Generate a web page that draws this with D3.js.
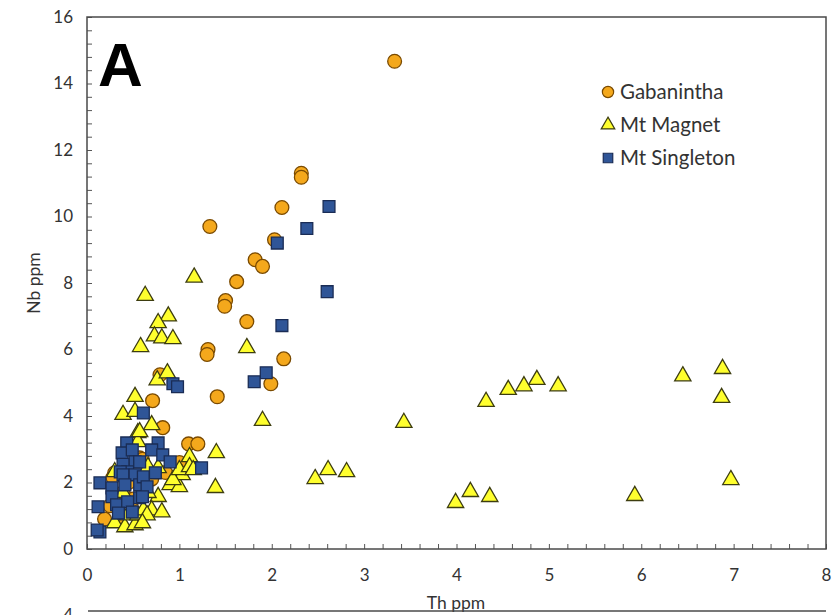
<!DOCTYPE html>
<html>
<head>
<meta charset="utf-8">
<script src="https://cdn.jsdelivr.net/npm/d3@7"></script>
<style>
  body { margin: 0; background: #fff; }
  svg { display: block; }
</style>
</head>
<body>
<svg id="chart"></svg>
<script>
// Th ppm, Nb ppm pairs
const gabanintha = [
    [3.33, 14.67], [2.32, 11.3], [2.32, 11.18], [2.11, 10.27], [1.33, 9.7], [2.03, 9.3],
    [1.82, 8.7], [1.9, 8.5], [1.62, 8.04], [1.5, 7.47], [1.49, 7.3], [1.73, 6.84],
    [1.31, 6.0], [1.3, 5.85], [2.13, 5.72], [1.99, 4.97], [1.41, 4.58], [0.79, 5.24],
    [0.71, 4.46], [0.82, 3.65], [1.1, 3.16], [1.2, 3.16], [0.19, 0.9], [0.57, 2.74],
    [0.3, 2.29], [0.6, 2.7], [1.0, 2.6], [0.39, 1.7], [0.45, 2.0], [0.25, 1.3],
    [0.7, 2.1], [0.85, 2.3], [0.5, 1.5], [0.35, 0.9], [0.28, 2.15]
];

const mtMagnet = [
    [6.88, 5.42], [6.45, 5.2], [5.1, 4.9], [4.87, 5.09], [4.73, 4.9], [4.56, 4.79],
    [4.32, 4.43], [6.87, 4.55], [3.43, 3.8], [6.97, 2.08], [5.93, 1.6], [4.36, 1.57],
    [4.15, 1.72], [3.99, 1.39], [2.81, 2.32], [2.61, 2.38], [2.47, 2.11], [1.9, 3.86],
    [1.39, 1.84], [1.4, 2.89], [1.73, 6.05], [1.16, 8.17], [0.63, 7.62], [0.88, 7.0],
    [0.77, 6.8], [0.73, 6.4], [0.81, 6.34], [0.93, 6.32], [0.58, 6.08], [0.76, 5.08],
    [0.87, 5.29], [0.52, 4.58], [0.39, 4.04], [0.52, 4.13], [0.7, 3.73], [0.55, 3.49],
    [0.55, 3.22], [1.11, 2.77], [0.3, 0.78], [0.41, 0.66], [0.52, 0.72], [0.44, 1.02],
    [0.55, 1.02], [0.61, 1.17], [0.3, 2.32], [0.39, 1.69], [0.77, 1.57], [0.7, 1.17],
    [0.81, 1.11], [0.65, 1.02], [0.6, 0.78], [0.66, 1.69], [0.9, 1.93], [1.0, 1.87],
    [1.03, 2.23], [0.93, 2.08], [0.66, 2.47], [0.77, 2.44], [1.0, 2.38], [1.11, 2.47],
    [1.15, 2.38], [0.57, 3.52]
];

const mtSingleton = [
    [2.62, 10.3], [2.38, 9.64], [2.06, 9.2], [2.6, 7.74], [2.11, 6.72], [1.94, 5.3],
    [1.81, 5.03], [0.93, 4.97], [0.98, 4.88], [0.61, 4.09], [0.43, 3.19], [0.38, 2.89],
    [0.49, 2.98], [0.52, 2.62], [0.39, 2.55], [0.44, 2.32], [0.36, 2.32], [0.77, 3.19],
    [0.7, 2.98], [0.82, 2.83], [0.9, 2.62], [1.24, 2.44], [0.14, 1.99], [0.27, 1.84],
    [0.39, 2.23], [0.52, 2.23], [0.57, 1.93], [0.41, 1.93], [0.27, 1.57], [0.32, 1.33],
    [0.44, 1.42], [0.57, 1.54], [0.34, 1.08], [0.49, 1.11], [0.14, 0.51], [0.11, 0.57],
    [0.12, 1.27], [0.61, 2.17], [0.74, 2.29], [0.65, 1.87], [0.6, 1.57], [0.57, 2.62]
];

const seriesNames = ["Gabanintha", "Mt Magnet", "Mt Singleton"];
const xTickLabels = [0, 1, 2, 3, 4, 5, 6, 7, 8];
const yTickLabels = [0, 2, 4, 6, 8, 10, 12, 14, 16];

const width = 836, height = 615;
const margin = { top: 17, right: 10, bottom: 66, left: 87 };
const plotW = 826 - margin.left;
const plotH = 549 - margin.top;
const font = "Lato, 'Open Sans', sans-serif";

const styles = {
    "Gabanintha":   { fill: "#F4A81C", stroke: "#7a4a00" },
    "Mt Magnet":    { fill: "#FFFF2E", stroke: "#3d3d10" },
    "Mt Singleton": { fill: "#2F5597", stroke: "#1a2c55" }
};

const svg = d3.select("#chart")
    .attr("width", width)
    .attr("height", height);

const x = d3.scaleLinear().domain([0, 8]).range([0, plotW]);
const y = d3.scaleLinear().domain([0, 16]).range([plotH, 0]);

const g = svg.append("g")
    .attr("transform", `translate(${margin.left},${margin.top})`);

// minor ticks pointing inward
const xMinor = d3.range(0, 41).map(i => i * 0.2);
const yMinor = d3.range(0, 41).map(i => i * 0.4);

g.append("g")
    .attr("transform", `translate(0,${plotH})`)
    .call(d3.axisBottom(x).tickValues(xMinor).tickSizeInner(-5).tickSizeOuter(0).tickFormat(""))
    .call(a => a.select(".domain").remove())
    .selectAll("line").attr("stroke", "#555");

g.append("g")
    .call(d3.axisLeft(y).tickValues(yMinor).tickSizeInner(-5).tickSizeOuter(0).tickFormat(""))
    .call(a => a.select(".domain").remove())
    .selectAll("line").attr("stroke", "#555");

// tick labels
const xLab = g.append("g")
    .attr("transform", `translate(0,${plotH})`)
    .call(d3.axisBottom(x).tickValues(xTickLabels).tickSize(0).tickPadding(20).tickFormat(d3.format("d")));
xLab.select(".domain").remove();
xLab.selectAll("text")
    .style("font-family", font)
    .style("font-size", "17px")
    .attr("fill", "#333");

const yLab = g.append("g")
    .call(d3.axisLeft(y).tickValues(yTickLabels).tickSize(0).tickPadding(14).tickFormat(d3.format("d")));
yLab.select(".domain").remove();
yLab.selectAll("text")
    .style("font-family", font)
    .style("font-size", "17px")
    .attr("fill", "#333");

// frame
g.append("rect")
    .attr("width", plotW)
    .attr("height", plotH)
    .attr("fill", "none")
    .attr("stroke", "#4a4a4a")
    .attr("stroke-width", 1.5);

// markers
const symbolFor = {
    "Gabanintha": d3.symbol().type(d3.symbolCircle).size(150),
    "Mt Magnet": d3.symbol().type(d3.symbolTriangle).size(115),
    "Mt Singleton": d3.symbol().type(d3.symbolSquare).size(140)
};
const allSeries = [gabanintha, mtMagnet, mtSingleton];

allSeries.forEach((data, i) => {
    const name = seriesNames[i];
    g.append("g").selectAll("path")
        .data(data)
        .join("path")
        .attr("transform", d => `translate(${x(d[0])},${y(d[1])})`)
        .attr("d", symbolFor[name]())
        .attr("fill", styles[name].fill)
        .attr("stroke", styles[name].stroke)
        .attr("stroke-width", 1.3);
});

// legend
const legend = svg.append("g").attr("transform", "translate(608,92)");
seriesNames.forEach((name, i) => {
    const row = legend.append("g").attr("transform", `translate(0,${i * 33})`);
    const sizes = { "Gabanintha": 100, "Mt Magnet": 80, "Mt Singleton": 90 };
    const type = [d3.symbolCircle, d3.symbolTriangle, d3.symbolSquare][i];
    row.append("path")
        .attr("d", d3.symbol().type(type).size(sizes[name])())
        .attr("fill", styles[name].fill)
        .attr("stroke", styles[name].stroke)
        .attr("stroke-width", 1.2);
    row.append("text")
        .attr("x", 12)
        .attr("y", 7)
        .style("font-family", font)
        .style("font-size", "20.5px")
        .attr("fill", "#333")
        .text(name);
});

// panel letter
svg.append("text")
    .attr("x", 98)
    .attr("y", 86)
    .style("font-family", "'Liberation Sans', Arial, sans-serif")
    .style("font-weight", "bold")
    .style("font-size", "62px")
    .attr("fill", "#000")
    .text("A");

// axis titles
svg.append("text")
    .attr("x", 456)
    .attr("y", 609)
    .attr("text-anchor", "middle")
    .style("font-family", font)
    .style("font-size", "17.5px")
    .attr("fill", "#333")
    .text("Th ppm");

svg.append("text")
    .attr("transform", "translate(40,283) rotate(-90)")
    .attr("text-anchor", "middle")
    .style("font-family", font)
    .style("font-size", "17.5px")
    .attr("fill", "#333")
    .text("Nb ppm");

// top of the next panel, cut off at the bottom edge
svg.append("line")
    .attr("x1", 88).attr("x2", 826)
    .attr("y1", 611).attr("y2", 611)
    .attr("stroke", "#4a4a4a")
    .attr("stroke-width", 1.5);
svg.append("text")
    .attr("x", 73)
    .attr("y", 621)
    .attr("text-anchor", "end")
    .style("font-family", font)
    .style("font-size", "17px")
    .attr("fill", "#333")
    .text("4");
</script>
</body>
</html>
